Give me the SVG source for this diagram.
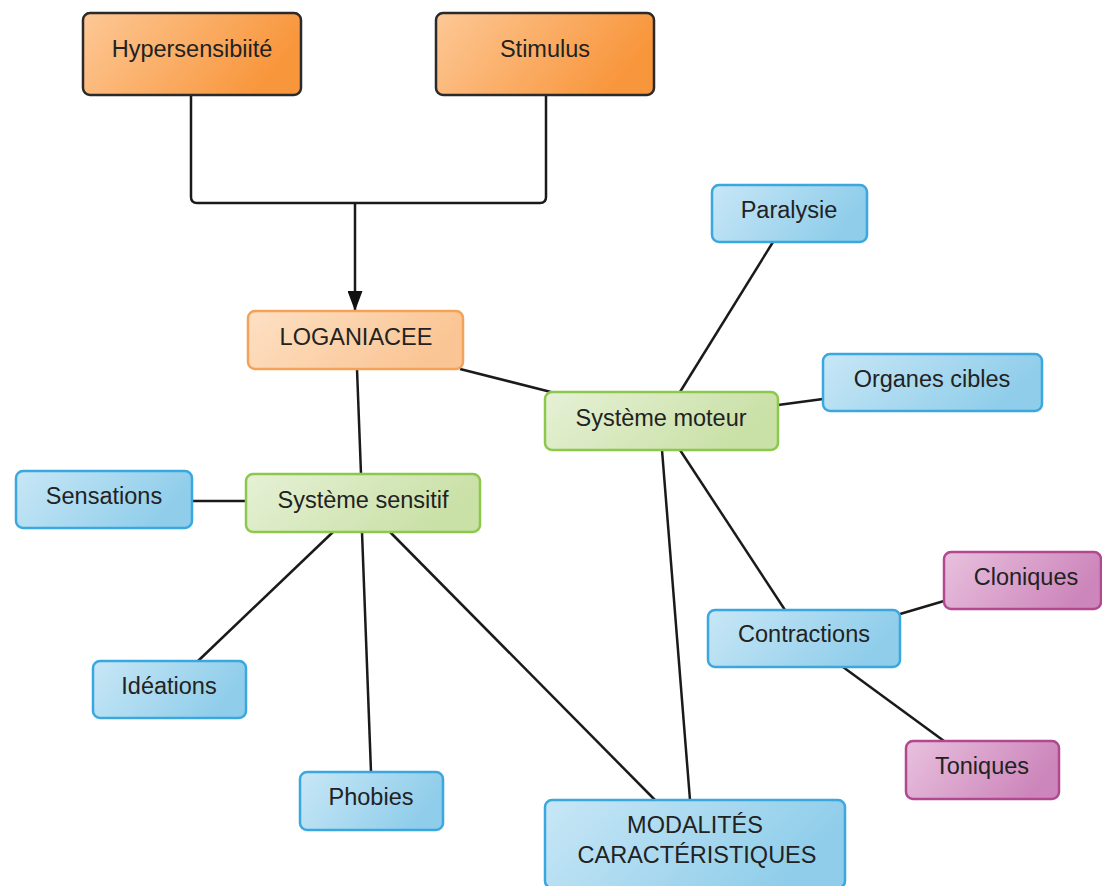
<svg xmlns="http://www.w3.org/2000/svg" width="1102" height="886" viewBox="0 0 1102 886">
<defs>
<linearGradient id="gOr" x1="0" y1="0" x2="1" y2="0.3"><stop offset="0" stop-color="#fdc896"/><stop offset="1" stop-color="#f8963c"/></linearGradient>
<linearGradient id="gLo" x1="0" y1="0" x2="1" y2="0.3"><stop offset="0" stop-color="#fde0c4"/><stop offset="1" stop-color="#fac594"/></linearGradient>
<linearGradient id="gGr" x1="0" y1="0" x2="1" y2="0.3"><stop offset="0" stop-color="#e6f1d6"/><stop offset="1" stop-color="#c9e0a6"/></linearGradient>
<linearGradient id="gBl" x1="0" y1="0" x2="1" y2="0.3"><stop offset="0" stop-color="#c8e7f6"/><stop offset="1" stop-color="#8fcdea"/></linearGradient>
<linearGradient id="gPu" x1="0" y1="0" x2="1" y2="0.3"><stop offset="0" stop-color="#e8c1de"/><stop offset="1" stop-color="#cd86bb"/></linearGradient>
<marker id="arr" markerWidth="20" markerHeight="15" refX="20" refY="7.5" orient="auto" markerUnits="userSpaceOnUse" viewBox="0 0 20 15"><path d="M0,0 L20,7.5 L0,15 z" fill="#111"/></marker>
</defs>
<style>
text{font-family:"Liberation Sans",Arial,sans-serif;font-size:23.5px;fill:#222;text-anchor:middle;dominant-baseline:central}
.or{fill:url(#gOr);stroke:#2a2a2a;stroke-width:2.5}
.lo{fill:url(#gLo);stroke:#f4a257;stroke-width:2.5}
.gr{fill:url(#gGr);stroke:#8cc84b;stroke-width:2.5}
.bl{fill:url(#gBl);stroke:#3aa8df;stroke-width:2.5}
.pu{fill:url(#gPu);stroke:#b2488f;stroke-width:2.5}
.c{fill:none;stroke:#1a1a1a;stroke-width:2.5}
</style>
<rect width="1102" height="886" fill="#fff"/>
<g id="connectors">
<path class="c" d="M191,95 V197 Q191,203 197,203 H540 Q546,203 546,197 V95"/>
<path class="c" d="M355,203 V311" marker-end="url(#arr)"/>
<line class="c" x1="357" y1="369" x2="361" y2="474"/>
<line class="c" x1="460" y1="369" x2="551" y2="392"/>
<line class="c" x1="680" y1="392" x2="773" y2="242"/>
<line class="c" x1="778" y1="405" x2="823" y2="399"/>
<line class="c" x1="662" y1="450" x2="690" y2="800"/>
<line class="c" x1="680" y1="450" x2="785" y2="610"/>
<line class="c" x1="900" y1="614" x2="944" y2="601"/>
<line class="c" x1="843" y1="667" x2="944" y2="741"/>
<line class="c" x1="246" y1="501" x2="192" y2="501"/>
<line class="c" x1="333" y1="532" x2="198" y2="661"/>
<line class="c" x1="362" y1="532" x2="371" y2="772"/>
<line class="c" x1="390" y1="532" x2="655" y2="800"/>
</g>
<g id="hyper"><rect class="or" x="83" y="13" width="218" height="82" rx="7"/><text x="192" y="49">Hypersensibiité</text></g>
<g id="stimulus"><rect class="or" x="436" y="13" width="218" height="82" rx="7"/><text x="545" y="49">Stimulus</text></g>
<g id="loganiacee"><rect class="lo" x="248" y="311" width="215" height="58" rx="7"/><text x="356" y="337">LOGANIACEE</text></g>
<g id="moteur"><rect class="gr" x="545" y="392" width="233" height="58" rx="7"/><text x="661" y="418">Système moteur</text></g>
<g id="sensitif"><rect class="gr" x="246" y="474" width="234" height="58" rx="7"/><text x="363" y="500">Système sensitif</text></g>
<g id="sensations"><rect class="bl" x="16" y="471" width="176" height="57" rx="7"/><text x="104" y="496">Sensations</text></g>
<g id="paralysie"><rect class="bl" x="712" y="185" width="155" height="57" rx="7"/><text x="789" y="210">Paralysie</text></g>
<g id="organes"><rect class="bl" x="823" y="354" width="219" height="57" rx="7"/><text x="932" y="379">Organes cibles</text></g>
<g id="contractions"><rect class="bl" x="708" y="610" width="192" height="57" rx="7"/><text x="804" y="634">Contractions</text></g>
<g id="cloniques"><rect class="pu" x="944" y="552" width="157" height="57" rx="7"/><text x="1026" y="577">Cloniques</text></g>
<g id="toniques"><rect class="pu" x="906" y="741" width="153" height="58" rx="7"/><text x="982" y="766">Toniques</text></g>
<g id="ideations"><rect class="bl" x="93" y="661" width="153" height="57" rx="7"/><text x="169" y="686">Idéations</text></g>
<g id="phobies"><rect class="bl" x="300" y="772" width="143" height="58" rx="7"/><text x="371" y="797">Phobies</text></g>
<g id="modalites"><rect class="bl" x="545" y="800" width="300" height="88" rx="7"/><text x="695" y="825">MODALITÉS</text><text x="697" y="855">CARACTÉRISTIQUES</text></g>
</svg>
